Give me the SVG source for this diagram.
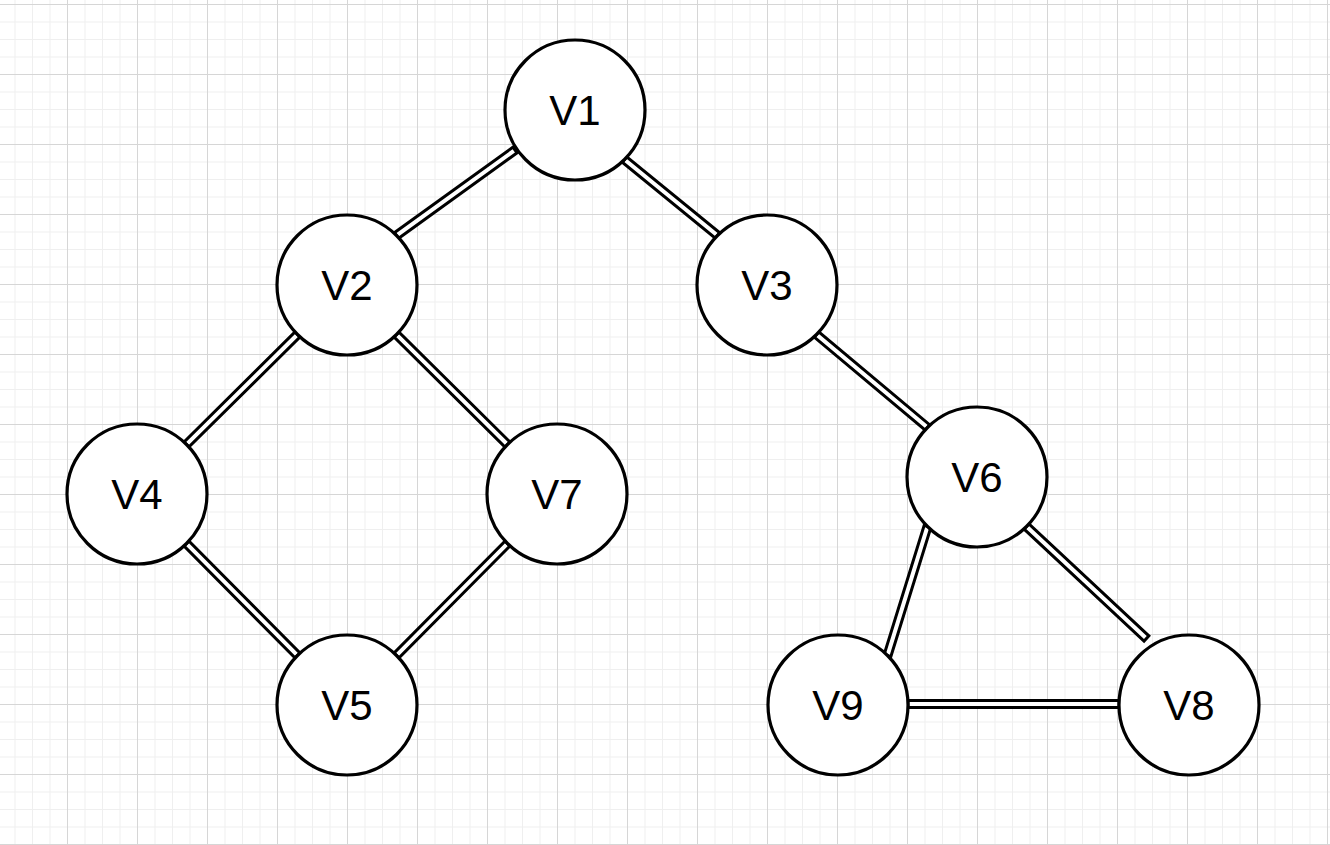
<svg xmlns="http://www.w3.org/2000/svg" width="1330" height="845" viewBox="0 0 1330 845">
  <defs>
    <!-- drawing grid: minor every 17.5px, major every 70px -->
    <pattern id="grid" patternUnits="userSpaceOnUse" x="67" y="4" width="70" height="70">
      <g stroke="#efefef" stroke-width="1">
        <line x1="18" y1="0" x2="18" y2="70"/>
        <line x1="35.5" y1="0" x2="35.5" y2="70"/>
        <line x1="53" y1="0" x2="53" y2="70"/>
        <line x1="0" y1="18" x2="70" y2="18"/>
        <line x1="0" y1="35.5" x2="70" y2="35.5"/>
        <line x1="0" y1="53" x2="70" y2="53"/>
      </g>
      <g stroke="#d6d6d6" stroke-width="1">
        <line x1="0.5" y1="0" x2="0.5" y2="70"/>
        <line x1="0" y1="0.5" x2="70" y2="0.5"/>
      </g>
    </pattern>
    <style>
      .link { fill: #ffffff; stroke: #000000; stroke-width: 3; }
      .node circle { fill: #ffffff; stroke: #000000; stroke-width: 3.2; }
      .node text { font-family: "Liberation Sans", Arial, Helvetica, sans-serif; font-size: 42px; fill: #000000; text-anchor: middle; }
    </style>
  </defs>

  <rect x="0" y="0" width="1330" height="845" fill="#ffffff"/>
  <rect x="0" y="0" width="1330" height="845" fill="url(#grid)"/>

  <!-- double-line links between vertices -->
  <g id="connectors">
    <rect class="link" x="0" y="-3.5" width="146.1" height="7" transform="translate(396.5 235.5) rotate(-35.8)"/>
    <rect class="link" x="0" y="-3.5" width="120.1" height="7" transform="translate(624.5 159.5) rotate(39.26)"/>
    <rect class="link" x="0" y="-3.5" width="156.3" height="7" transform="translate(186.5 444.5) rotate(-44.74)"/>
    <rect class="link" x="0" y="-3.5" width="156.3" height="7" transform="translate(396.5 334.5) rotate(44.74)"/>
    <rect class="link" x="0" y="-3.5" width="157.7" height="7" transform="translate(186.5 543.5) rotate(45.26)"/>
    <rect class="link" x="0" y="-3.5" width="157.7" height="7" transform="translate(396.5 655.5) rotate(-45.26)"/>
    <rect class="link" x="0" y="-3.5" width="144.8" height="7" transform="translate(816.5 334.5) rotate(39.96)"/>
    <rect class="link" x="0" y="-3.5" width="135.1" height="7" transform="translate(887.5 655.5) rotate(-72.77)"/>
    <rect class="link" x="0" y="-3.5" width="164.1" height="7" transform="translate(1026.5 526.5) rotate(43.03)"/>
    <rect class="link" x="908" y="700.5" width="211" height="7"/>
  </g>

  <g id="V1" class="node"><circle cx="575" cy="110" r="70"/><text x="575" y="125">V1</text></g>
  <g id="V2" class="node"><circle cx="347" cy="285" r="70"/><text x="347" y="300">V2</text></g>
  <g id="V3" class="node"><circle cx="767" cy="285" r="70"/><text x="767" y="300">V3</text></g>
  <g id="V4" class="node"><circle cx="137" cy="494" r="70"/><text x="137" y="509">V4</text></g>
  <g id="V7" class="node"><circle cx="557" cy="494" r="70"/><text x="557" y="509">V7</text></g>
  <g id="V5" class="node"><circle cx="347" cy="705" r="70"/><text x="347" y="720">V5</text></g>
  <g id="V6" class="node"><circle cx="977" cy="477" r="70"/><text x="977" y="492">V6</text></g>
  <g id="V9" class="node"><circle cx="838" cy="705" r="70"/><text x="838" y="720">V9</text></g>
  <g id="V8" class="node"><circle cx="1189" cy="705" r="70"/><text x="1189" y="720">V8</text></g>
</svg>
